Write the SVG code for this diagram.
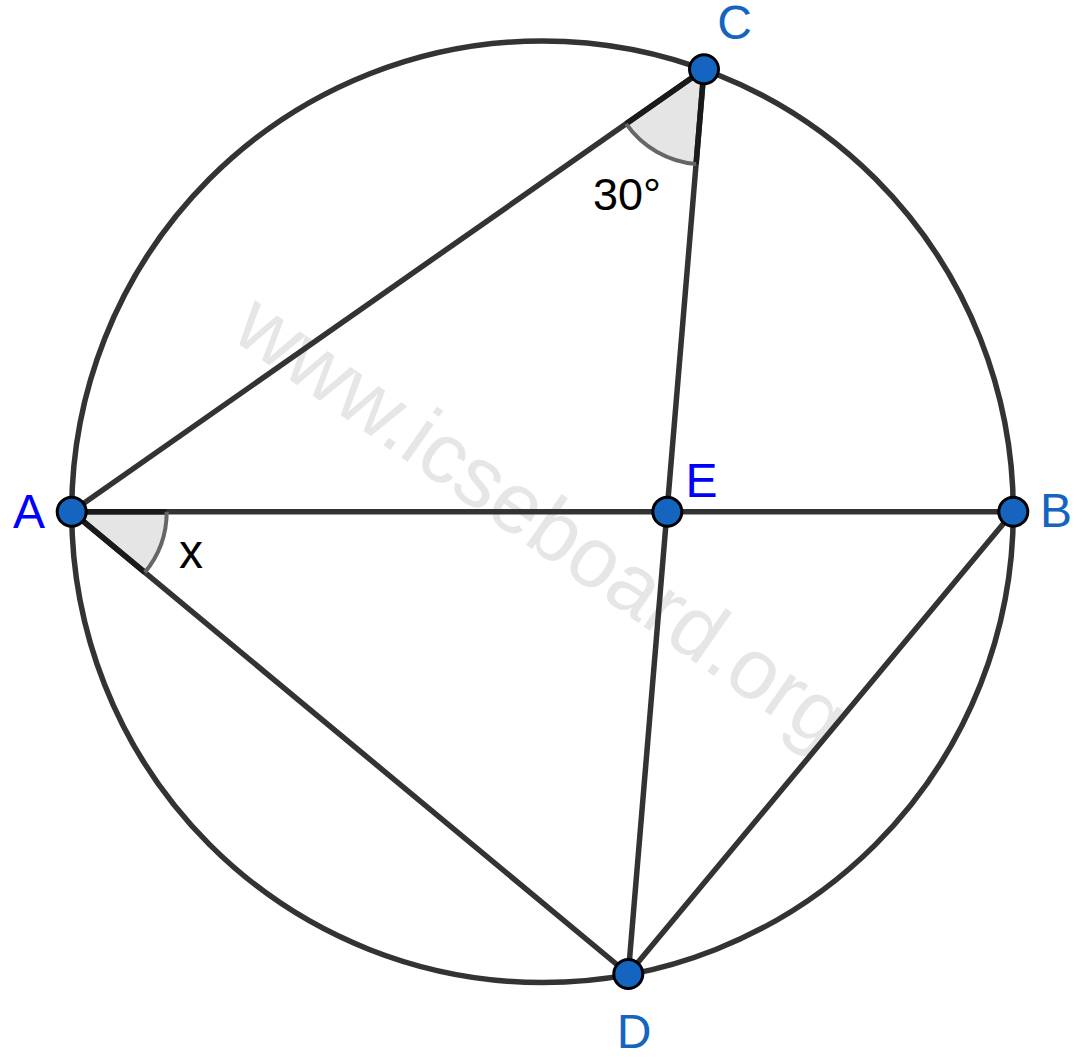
<svg xmlns="http://www.w3.org/2000/svg" width="1084" height="1060" viewBox="0 0 1084 1060">
<style>
.seg{stroke:#333333;stroke-width:5.5;fill:none;stroke-linecap:round}
.wedge{fill:#e5e5e5;stroke:none}
.arc{fill:none;stroke:#666666;stroke-width:4}
.side{stroke:#1a1a1a;stroke-width:5.5;fill:none}
.pt{fill:#1565C0;stroke:#000000;stroke-width:3}
.lbl{font-family:"Liberation Sans",Arial,sans-serif;font-size:48px;text-anchor:middle}
.lb1{fill:#1565C0}
.lb2{fill:#0000FF}
.ang{font-family:"Liberation Sans",Arial,sans-serif;fill:#000000}
</style>
<rect width="1084" height="1060" fill="#ffffff"/>
<text id="watermark" transform="translate(229,337.3) rotate(34.9)" font-family="'Liberation Sans',Arial,sans-serif" font-size="85.6" fill="#e6e6e6">www.icseboard.org</text>
<g id="angle-C">
<path class="wedge" d="M704,69.3 L626.2,123.8 A95,95 0 0 0 696.1,164 Z"/>
</g>
<g id="angle-A">
<path class="wedge" d="M71.7,511.7 L166.7,511.7 A95,95 0 0 1 144.8,572.4 Z"/>
</g>
<g id="connectors">
<circle class="seg" cx="542.5" cy="511.7" r="470.8"/>
<line class="seg" x1="71.7" y1="511.7" x2="704" y2="69.3"/>
<line class="seg" x1="704" y1="69.3" x2="628.3" y2="974"/>
<line class="seg" x1="71.7" y1="511.7" x2="1013.3" y2="511.7"/>
<line class="seg" x1="71.7" y1="511.7" x2="628.3" y2="974"/>
<line class="seg" x1="1013.3" y1="511.7" x2="628.3" y2="974"/>
</g>
<g id="angle-marks">
<path class="side" d="M626.2,123.8 L704,69.3 L696.1,164"/>
<path class="arc" d="M626.2,123.8 A95,95 0 0 0 696.1,164"/>
<path class="side" d="M166.7,511.7 L71.7,511.7 L144.8,572.4"/>
<path class="arc" d="M166.7,511.7 A95,95 0 0 1 144.8,572.4"/>
<text class="ang" x="593" y="210" font-size="45">30°</text>
<text class="ang" x="179" y="568" font-size="48">x</text>
</g>
<g id="node-A"><circle class="pt" cx="71.7" cy="511.7" r="14.5"/><text class="lbl lb2" x="29" y="528">A</text></g>
<g id="node-B"><circle class="pt" cx="1013.3" cy="511.7" r="14.5"/><text class="lbl lb1" x="1056" y="527.3">B</text></g>
<g id="node-C"><circle class="pt" cx="704" cy="69.3" r="14.5"/><text class="lbl lb1" x="734.5" y="38.5">C</text></g>
<g id="node-D"><circle class="pt" cx="628.3" cy="974" r="14.5"/><text class="lbl lb1" x="634" y="1048">D</text></g>
<g id="node-E"><circle class="pt" cx="667.3" cy="511.7" r="14.5"/><text class="lbl lb2" x="701.5" y="496.7">E</text></g>
</svg>
